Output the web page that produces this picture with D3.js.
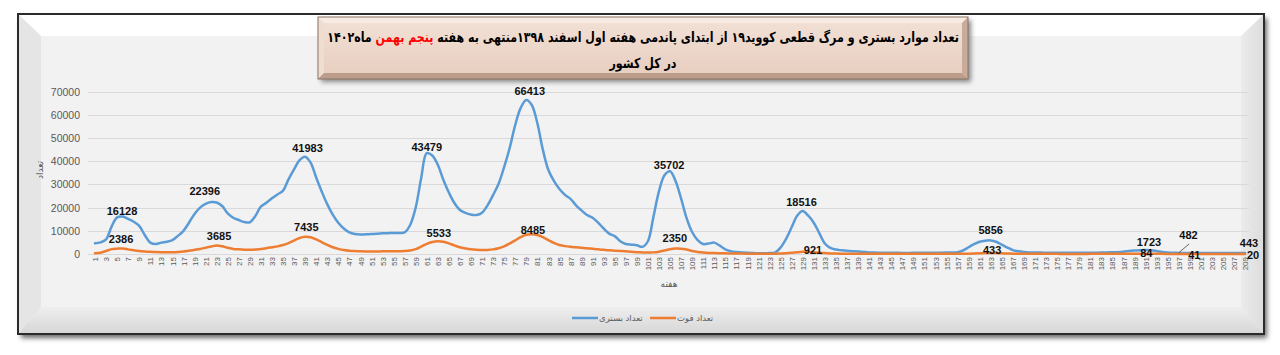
<!DOCTYPE html>
<html>
<head>
<meta charset="utf-8">
<script src="https://cdn.jsdelivr.net/npm/d3@7"></script>
<style>
  html, body { margin: 0; padding: 0; background: #ffffff; }
  svg { display: block; }
</style>
</head>
<body>
<svg id="chart" width="1280" height="355"></svg>
<script>
// ---------------- DATA ----------------
const weeks = d3.range(1, 210); // weeks 1..209

const hospitalized = [
  4600,5000,6300,11800,15800,16128,15100,13900,12100,8200,
  4900,4300,4900,5300,6000,7800,10000,13500,17250,20000,
  21600,22396,22200,20700,17500,15650,14650,13800,13650,16400,
  20400,22100,24000,25700,27300,32200,36500,40500,41983,39400,
  33000,27000,21500,17000,13500,11000,9300,8600,8400,8500,
  8600,8700,8900,9000,9100,9100,9300,12500,20000,32800,
  43479,42500,38500,32000,26500,22000,19000,17700,17000,16800,
  17800,21000,25400,30300,37500,45700,55600,63000,66413,64250,
  56500,45000,36200,31500,28000,25500,23800,21000,18800,16800,
  15600,13500,11000,8800,7700,5500,4300,4000,3800,3100,
  5500,16000,27000,34000,35702,31500,24000,15500,9500,6000,
  4300,4500,4900,3600,2000,1200,850,700,500,400,
  350,300,400,600,2800,6500,11500,16500,18516,16500,
  13500,9000,4500,2600,1900,1600,1350,1200,1100,900,
  700,600,560,530,500,500,480,480,490,500,
  510,530,550,570,600,650,800,1500,2900,4300,
  5300,5750,5856,5300,4000,2800,1700,1150,850,700,
  650,600,580,560,550,540,530,520,520,530,
  550,580,620,680,750,800,1000,1300,1500,1650,
  1723,1600,1300,900,650,520,482,460,440,430,
  420,420,430,430,440,440,440,445,443
];

const deaths = [
  300,550,1300,2100,2300,2386,2000,1600,1300,1100,
  950,850,800,780,800,900,1100,1400,1800,2200,
  2700,3200,3685,3300,2700,2200,2000,1850,1800,1900,
  2200,2500,2900,3300,3900,4700,5800,6900,7435,7200,
  6300,5100,3900,2900,2200,1700,1400,1250,1150,1100,
  1100,1100,1150,1150,1200,1200,1250,1500,2100,3200,
  4400,5200,5533,5300,4600,3700,2900,2400,2000,1800,
  1700,1750,2000,2500,3300,4500,5900,7300,8300,8485,
  8200,7300,6000,4800,3900,3400,3100,2900,2700,2500,
  2250,2000,1800,1600,1450,1300,1150,950,800,700,
  600,700,1000,1500,2050,2350,2300,1900,1300,850,
  600,450,400,350,300,250,200,180,160,150,
  150,150,150,160,200,300,500,750,921,880,
  750,550,380,250,180,150,130,120,110,100,
  95,90,90,85,85,80,80,80,80,80,
  80,80,80,85,90,95,100,120,150,220,
  320,410,433,400,320,220,140,100,80,70,
  70,65,60,55,55,50,50,50,50,50,
  55,55,60,65,70,75,80,82,83,84,
  82,78,70,60,52,46,43,41,38,35,
  32,30,28,26,24,22,21,20,20
];

const yTicks = [0,10000,20000,30000,40000,50000,60000,70000];
const xTickWeeks = weeks.filter(w => w % 2 === 1);

const seriesNames = ["تعداد بستری", "تعداد فوت"];
const hospLabelWeeks = [6,22,39,61,79,105,129,163,191,197,209];
const deathLabelWeeks = [6,23,39,63,80,106,129,163,190,198,209];

const titleLine1a = "تعداد موارد بستری و مرگ قطعی کووید۱۹  از ابتدای پاندمی هفته اول اسفند   ۱۳۹۸منتهی به هفته ";
const titleLine1red = "پنجم بهمن";
const titleLine1b = " ماه۱۴۰۲";
const titleLine2 = "در کل کشور";
const yAxisTitle = "تعداد";
const xAxisTitle = "هفته";

// ---------------- DRAW ----------------
const svg = d3.select("#chart");
const defs = svg.append("defs");

const blur = defs.append("filter").attr("id","shadow").attr("x","-5%").attr("y","-5%").attr("width","110%").attr("height","120%");
blur.append("feGaussianBlur").attr("stdDeviation", 2.5);

const bottomGrad = defs.append("linearGradient").attr("id","bottomGrad").attr("x1",0).attr("y1",0).attr("x2",0).attr("y2",1);
bottomGrad.append("stop").attr("offset","0%").attr("stop-color","#eeeeee");
bottomGrad.append("stop").attr("offset","100%").attr("stop-color","#d6d6d6");
const rightGrad = defs.append("linearGradient").attr("id","rightGrad").attr("x1",0).attr("y1",0).attr("x2",1).attr("y2",0);
rightGrad.append("stop").attr("offset","0%").attr("stop-color","#ebebeb");
rightGrad.append("stop").attr("offset","100%").attr("stop-color","#dcdcdc");
const titleGrad = defs.append("linearGradient").attr("id","titleGrad").attr("x1",0).attr("y1",0).attr("x2",0).attr("y2",1);
titleGrad.append("stop").attr("offset","0%").attr("stop-color","#f3e1d6");
titleGrad.append("stop").attr("offset","100%").attr("stop-color","#e6cdbf");

// outer frame
const F = {x0: 18, y0: 14, x1: 1264, y1: 334, bx: 23, by: 22, bb: 27};
svg.append("rect").attr("x", F.x0 + 3).attr("y", F.y0 + 4).attr("width", F.x1 - F.x0).attr("height", F.y1 - F.y0)
  .attr("fill", "#6a6a6a").attr("filter", "url(#shadow)");
svg.append("rect").attr("x", F.x0).attr("y", F.y0).attr("width", F.x1 - F.x0).attr("height", F.y1 - F.y0)
  .attr("fill", "#f3f2f3");
const ix0 = F.x0 + F.bx, iy0 = F.y0 + F.by, ix1 = F.x1 - F.bx, iy1 = F.y1 - F.bb;
svg.append("polygon").attr("points", `${F.x0},${F.y0} ${F.x1},${F.y0} ${ix1},${iy0} ${ix0},${iy0}`).attr("fill", "#ffffff");
svg.append("polygon").attr("points", `${F.x0},${F.y0} ${ix0},${iy0} ${ix0},${iy1} ${F.x0},${F.y1}`).attr("fill", "#e6e5e6");
svg.append("polygon").attr("points", `${F.x1},${F.y0} ${F.x1},${F.y1} ${ix1},${iy1} ${ix1},${iy0}`).attr("fill", "url(#rightGrad)");
svg.append("polygon").attr("points", `${F.x0},${F.y1} ${F.x1},${F.y1} ${ix1},${iy1} ${ix0},${iy1}`).attr("fill", "url(#bottomGrad)");
svg.append("rect").attr("x", F.x0).attr("y", F.y0).attr("width", F.x1 - F.x0).attr("height", F.y1 - F.y0)
  .attr("fill", "none").attr("stroke", "#2b2b2b").attr("stroke-width", 2);

// scales
const x = d3.scalePoint().domain(weeks).range([95, 1245]);
const y = d3.scaleLinear().domain([0, 70000]).range([254, 91.7]);

// gridlines
svg.append("g").selectAll("line").data(yTicks).join("line")
  .attr("x1", 88).attr("x2", 1249)
  .attr("y1", d => Math.round(y(d)) + 0.5).attr("y2", d => Math.round(y(d)) + 0.5)
  .attr("stroke", "#d9d9d9").attr("stroke-width", 1);

// y axis labels
const yAxis = d3.axisLeft(y).tickValues(yTicks).tickSize(0).tickPadding(0).tickFormat(d3.format("d"));
const yg = svg.append("g").attr("transform", "translate(80,0)").call(yAxis);
yg.select(".domain").remove();
yg.selectAll("text").attr("fill", "#595959").attr("font-family", "Liberation Sans, Arial, sans-serif").attr("font-size", "10.5px");

// x axis labels
const xAxis = d3.axisBottom(x).tickValues(xTickWeeks).tickSize(0).tickPadding(0);
const xg = svg.append("g").attr("transform", "translate(0,257)").call(xAxis);
xg.select(".domain").remove();
xg.selectAll("text")
  .attr("fill", "#595959").attr("font-family", "Liberation Sans, Arial, sans-serif").attr("font-size", "8px")
  .attr("text-anchor", "end").attr("transform", "rotate(-90)").attr("x", 0).attr("y", 0).attr("dy", "0.33em");

// lines
const line = d3.line().x((d, i) => x(weeks[i])).y(d => y(d)).curve(d3.curveCatmullRom.alpha(0.5));
svg.append("path").datum(hospitalized).attr("d", line).attr("fill", "none")
  .attr("stroke", "#5b9bd5").attr("stroke-width", 2.5).attr("stroke-linejoin", "round").attr("stroke-linecap", "round");
svg.append("path").datum(deaths).attr("d", line).attr("fill", "none")
  .attr("stroke", "#ed7d31").attr("stroke-width", 2.5).attr("stroke-linejoin", "round").attr("stroke-linecap", "round");

// data labels (offsets relative to the point)
const hospOffsets = [[-0.6,-1.6],[-6.4,-7.1],[2.4,-5],[0,-2.5],[3.5,-5],[-0.9,-2.2],[-1.2,-5.1],[0,-6.4],[3.5,-4],[9.8,-13.9],[4,-6.3]];
const deathOffsets = [[-1.6,-5.5],[2.4,-5.5],[1.2,-6.1],[1,-3.9],[1.2,0],[-0.7,-6.3],[10.3,2.4],[1.5,1.3],[6.3,3.2],[10.1,5.1],[8,5]];
function labelData(labelWeeks, values, offsets) {
  return labelWeeks.map((w, i) => ({w, v: values[w - 1], dx: offsets[i][0], dy: offsets[i][1]}));
}
const allLabels = labelData(hospLabelWeeks, hospitalized, hospOffsets).concat(labelData(deathLabelWeeks, deaths, deathOffsets));
// leader line for label 482
const lw = hospLabelWeeks[9];
svg.append("line").attr("x1", x(lw)).attr("y1", y(hospitalized[lw - 1]))
  .attr("x2", x(lw) + 10.5).attr("y2", y(hospitalized[lw - 1]) - 9)
  .attr("stroke", "#404040").attr("stroke-width", 0.8);
svg.append("g").selectAll("text").data(allLabels).join("text")
  .attr("x", d => x(d.w) + d.dx).attr("y", d => y(d.v) + d.dy)
  .attr("text-anchor", "middle")
  .attr("font-family", "Liberation Sans, Arial, sans-serif").attr("font-size", "11px").attr("font-weight", "bold")
  .attr("fill", "#111111")
  .text(d => d.v);

// axis titles
svg.append("text").attr("transform", "translate(43,170) rotate(-90)").attr("text-anchor", "middle")
  .attr("font-family", "DejaVu Sans, sans-serif").attr("font-size", "9px").attr("fill", "#595959").text(yAxisTitle);
svg.append("text").attr("x", 669).attr("y", 287).attr("text-anchor", "middle")
  .attr("font-family", "DejaVu Sans, sans-serif").attr("font-size", "9px").attr("fill", "#595959").text(xAxisTitle);

// legend
const legend = [{name: seriesNames[0], color: "#5b9bd5", x: 572}, {name: seriesNames[1], color: "#ed7d31", x: 650}];
const lg = svg.append("g").selectAll("g").data(legend).join("g");
lg.append("line").attr("x1", d => d.x).attr("x2", d => d.x + 26).attr("y1", 318).attr("y2", 318)
  .attr("stroke", d => d.color).attr("stroke-width", 2.5);
lg.append("text").attr("x", d => d.x + 27).attr("y", 321).attr("text-anchor", "start")
  .attr("font-family", "DejaVu Sans, sans-serif").attr("font-size", "8.5px").attr("fill", "#595959").text(d => d.name);

// title box
const T = {x: 318, y: 17, w: 650, h: 62, b: 6};
svg.append("rect").attr("x", T.x + 3).attr("y", T.y + 3).attr("width", T.w).attr("height", T.h)
  .attr("fill", "#888").attr("filter", "url(#shadow)");
svg.append("rect").attr("x", T.x).attr("y", T.y).attr("width", T.w).attr("height", T.h).attr("fill", "url(#titleGrad)");
const tx0 = T.x, ty0 = T.y, tx1 = T.x + T.w, ty1 = T.y + T.h, b = T.b;
svg.append("polygon").attr("points", `${tx0},${ty0} ${tx1},${ty0} ${tx1-b},${ty0+b} ${tx0+b},${ty0+b}`).attr("fill", "#f8ebe3");
svg.append("polygon").attr("points", `${tx0},${ty0} ${tx0+b},${ty0+b} ${tx0+b},${ty1-b} ${tx0},${ty1}`).attr("fill", "#efddd2");
svg.append("polygon").attr("points", `${tx1},${ty0} ${tx1},${ty1} ${tx1-b},${ty1-b} ${tx1-b},${ty0+b}`).attr("fill", "#c9ab99");
svg.append("polygon").attr("points", `${tx0},${ty1} ${tx1},${ty1} ${tx1-b},${ty1-b} ${tx0+b},${ty1-b}`).attr("fill", "#bc9c8a");
svg.append("rect").attr("x", T.x).attr("y", T.y).attr("width", T.w).attr("height", T.h)
  .attr("fill", "none").attr("stroke", "#8c7565").attr("stroke-width", 1);

// title text, horizontally condensed to fit the box like the original heavy Persian face
const titleG = svg.append("g").attr("transform", `translate(${T.x + T.w / 2},0) scale(0.79,1)`);
const t1 = titleG.append("text").attr("x", 0).attr("y", 42).attr("text-anchor", "middle")
  .attr("direction", "rtl").attr("font-family", "DejaVu Sans, sans-serif").attr("font-weight", "bold")
  .attr("font-size", "14px").attr("fill", "#000");
t1.append("tspan").text(titleLine1a);
t1.append("tspan").attr("fill", "#ff0000").text(titleLine1red);
t1.append("tspan").text(titleLine1b);
titleG.append("text").attr("x", 0).attr("y", 68).attr("text-anchor", "middle")
  .attr("direction", "rtl").attr("font-family", "DejaVu Sans, sans-serif").attr("font-weight", "bold")
  .attr("font-size", "14px").attr("fill", "#000").text(titleLine2);
</script>
</body>
</html>
